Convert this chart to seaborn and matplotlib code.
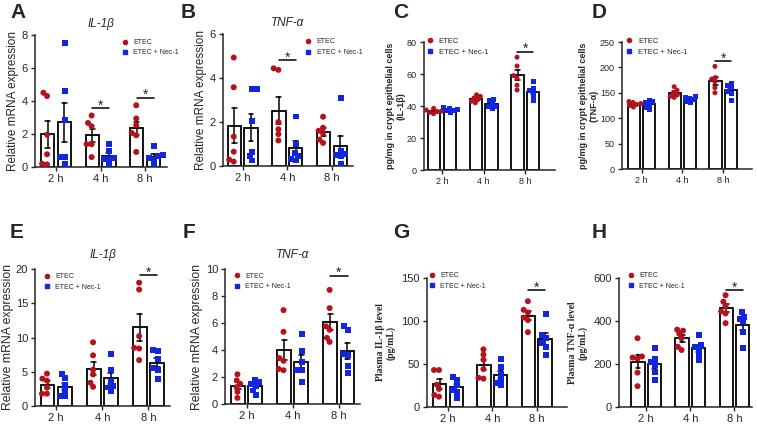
import pandas as pd
import matplotlib
matplotlib.use('Agg')
import matplotlib.pyplot as plt
import seaborn as sns
from matplotlib.lines import Line2D
from matplotlib.markers import MarkerStyle
from matplotlib.transforms import Affine2D

times = ['2 h', '4 h', '8 h']
groups = ['ETEC', 'ETEC + Nec-1']
colors = ['#B5121B', '#1226E0']

# values per group: [2 h, 4 h, 8 h], 6 animals each
a_etec = [[4.3, 4.5, 1.96, 0.77, 0.16, 0.2], [3.12, 2.67, 2.47, 1.38, 1.38, 0.6], [3.74, 2.94, 2.53, 2.06, 1.92, 0.91]]
a_nec = [[7.49, 4.6, 2.83, 0.6, 0.6, 0.16], [1.42, 0.95, 0.57, 0.5, 0.5, 0.15], [1.28, 0.71, 0.65, 0.55, 0.45, 0.15]]
b_etec = [[4.93, 3.58, 1.34, 0.65, 0.29, 0.2], [4.37, 4.44, 2.0, 1.67, 1.45, 1.16], [2.24, 1.74, 1.6, 1.5, 1.2, 1.05]]
b_nec = [[3.49, 3.52, 2.04, 0.65, 0.45, 0.25], [2.25, 0.99, 0.6, 0.45, 0.3, 0.25], [3.1, 0.7, 0.55, 0.5, 0.45, 0.08]]
c_etec = [[38.5, 37.5, 36.5, 36.0, 35.2, 36.8], [47, 46, 45, 44, 43, 42], [70.5, 65, 59, 57.5, 53, 50]]
c_nec = [[39, 38.5, 37.5, 37, 36, 38], [44, 43.5, 41.5, 40, 39.5, 38.5], [55.5, 51, 49.5, 48.5, 46, 43.5]]
d_etec = [[133, 131, 129, 127, 125, 122], [162, 155, 150, 146, 143, 141], [202, 180, 177, 172, 160, 150]]
d_nec = [[135, 132, 130, 127, 122, 118], [143, 141, 139, 136, 133, 130], [168, 165, 160, 152, 149, 135]]
e_etec = [[4.72, 3.99, 3.7, 2.68, 1.8, 1.8], [9.3, 7.4, 5.3, 4.6, 3.4, 2.8], [18.0, 17.0, 10.2, 8.5, 8.4, 6.7]]
e_nec = [[4.62, 4.1, 3.0, 2.3, 1.5, 1.4], [7.6, 5.2, 3.7, 2.9, 2.7, 2.2], [8.2, 8.1, 6.8, 5.6, 5.2, 4.0]]
f_etec = [[2.2, 1.75, 1.5, 1.25, 0.9, 0.45], [6.95, 5.35, 3.4, 3.2, 2.6, 2.5], [8.45, 7.1, 5.75, 5.5, 4.9, 4.6]]
f_nec = [[1.8, 1.6, 1.5, 1.35, 1.0, 0.7], [5.2, 3.9, 3.1, 2.55, 2.5, 1.6], [5.75, 5.5, 3.7, 3.6, 2.8, 2.3]]
g_etec = [[43, 43, 26, 21, 14, 12], [67, 61, 55, 44, 34, 33], [123, 113, 110, 104, 101, 87]]
g_nec = [[35, 31, 25, 20, 18, 10], [56, 46, 38, 31, 28, 25], [108, 84, 80, 74, 70, 60]]
h_etec = [[320, 235, 230, 225, 160, 97], [360, 355, 340, 320, 280, 265], [520, 490, 470, 445, 435, 390]]
h_nec = [[275, 225, 210, 195, 165, 125], [335, 290, 280, 270, 245, 220], [440, 420, 410, 395, 350, 275]]

# significance: (time index, line height)
a_sig = [(1, 3.58), (2, 4.2)]
b_sig = [(1, 4.8)]
c_sig = [(2, 74)]
d_sig = [(2, 212)]
e_sig = [(2, 19.1)]
f_sig = [(2, 9.5)]
g_sig = [(2, 135.6)]
h_sig = [(2, 543)]

sns.set_style('ticks')
plt.rcParams['font.family'] = ['Liberation Sans', 'DejaVu Sans']
plt.rcParams['axes.linewidth'] = 1.1

W, H = 757, 424
fig = plt.figure(figsize=(W / 100, H / 100), dpi=100)


def px_axes(l, r, t, b):
    return fig.add_axes([l / W, 1 - b / H, (r - l) / W, (b - t) / H])


def long_df(etec, nec):
    rows = []
    for g, vals in zip(groups, [etec, nec]):
        for t, v in zip(times, vals):
            for x in v:
                rows.append((t, g, x))
    return pd.DataFrame(rows, columns=['time', 'group', 'value'])


def panel(ax, etec, nec, ylim, yticks, xlim, ylabel, sig, leg_anchor,
          title=None, tick_fs=8, lab_fs=8.5, lab_font=None, msize=4.3,
          leg_fs=5, title_pad=6, labelpad=2):
    df = long_df(etec, nec)
    sns.barplot(data=df, x='time', y='value', hue='group', order=times, hue_order=groups,
                palette=['white', 'white'], saturation=1, edgecolor='black', linewidth=1.3,
                width=0.75, gap=0.2, errorbar='se', capsize=0.22,
                err_kws={'color': 'black', 'linewidth': 1.1}, legend=False, ax=ax)
    # swarm laid out with a slightly smaller footprint so dots may overlap a little
    grow = 1.25
    for g, m in zip(groups, ['o', 's']):
        mk = MarkerStyle(m, transform=Affine2D().scale(grow))
        sns.swarmplot(data=df[df['group'] == g], x='time', y='value', hue='group',
                      order=times, hue_order=groups, palette=dict(zip(groups, colors)),
                      dodge=True, marker=mk, size=msize / grow, linewidth=0, legend=False,
                      warn_thresh=1, ax=ax)
    for i, y in sig:
        ax.plot([i - 0.19, i + 0.19], [y, y], color='black', lw=1.1)
        ax.annotate('*', xy=(i, y), xytext=(0, -1), textcoords='offset points',
                    ha='center', va='baseline', fontsize=10)
    ax.set_xlim(*xlim)
    ax.set_ylim(*ylim)
    ax.set_yticks(yticks)
    ax.set_xlabel('')
    if lab_font is None:
        ax.set_ylabel(ylabel, fontsize=lab_fs, labelpad=labelpad)
    else:
        ax.set_ylabel(ylabel, fontsize=lab_fs, labelpad=labelpad, **lab_font)
    ax.tick_params(axis='both', labelsize=tick_fs, length=3, width=1, pad=2)
    sns.despine(ax=ax)
    if title:
        ax.set_title(title, fontsize=8.5, style='italic', pad=title_pad)
    handles = [Line2D([], [], marker='o', color=colors[0], ls='', markersize=3),
               Line2D([], [], marker='s', color=colors[1], ls='', markersize=3)]
    ax.legend(handles, groups, loc='upper left', bbox_to_anchor=leg_anchor, frameon=False,
              fontsize=leg_fs, handlelength=0.8, handletextpad=0.8, borderaxespad=0,
              borderpad=0, labelspacing=0.5)


ax_a = px_axes(35, 167, 35, 167)
panel(ax_a, a_etec, a_nec, (0, 8), [0, 2, 4, 6, 8], (-0.47, 2.49),
      'Relative mRNA expression', a_sig, (0.66, 0.97), title='IL-1β')

ax_b = px_axes(223, 353, 34, 166)
panel(ax_b, b_etec, b_nec, (0, 6), [0, 2, 4, 6], (-0.44, 2.47),
      'Relative mRNA expression', b_sig, (0.635, 0.966), title='TNF-α')

bold = {'fontweight': 'bold'}
ax_c = px_axes(424, 555, 42, 170)
panel(ax_c, c_etec, c_nec, (0, 80), [0, 20, 40, 60, 80], (-0.43, 2.71),
      'pg/mg in crypt epithelial cells\n(IL-1β)', c_sig, (0.02, 1.035),
      tick_fs=6.5, lab_fs=6.5, lab_font=bold, msize=3.6, leg_fs=5.5, labelpad=1)

ax_d = px_axes(622, 752, 42, 169)
panel(ax_d, d_etec, d_nec, (0, 250), [0, 50, 100, 150, 200, 250], (-0.48, 2.71),
      'pg/mg in crypt epithelial cells\n(TNF-α)', d_sig, (0.03, 1.035),
      tick_fs=6.5, lab_fs=6.5, lab_font=bold, msize=3.6, leg_fs=5.5, labelpad=1)

ax_e = px_axes(35, 170, 269, 406)
panel(ax_e, e_etec, e_nec, (0, 20), [0, 5, 10, 15, 20], (-0.46, 2.47),
      'Relative mRNA expression', e_sig, (0.067, 0.97), title='IL-1β',
      lab_fs=8.8, title_pad=8, labelpad=1)

ax_f = px_axes(225, 360, 269, 404)
panel(ax_f, f_etec, f_nec, (0, 10), [0, 2, 4, 6, 8, 10], (-0.47, 2.46),
      'Relative mRNA expression', f_sig, (0.067, 0.974), title='TNF-α',
      lab_fs=8.8, title_pad=8, labelpad=2)

serif = {'fontweight': 'bold', 'family': ['Liberation Serif', 'DejaVu Serif']}
ax_g = px_axes(427, 567, 278, 407)
panel(ax_g, g_etec, g_nec, (0, 150), [0, 50, 100, 150], (-0.47, 2.68),
      'Plasma IL-1β level\n(pg/mL)', g_sig, (0.014, 1.043),
      lab_fs=7, lab_font=serif, labelpad=4)

ax_h = px_axes(619, 752, 278, 407)
panel(ax_h, h_etec, h_nec, (0, 600), [0, 200, 400, 600], (-0.62, 2.4),
      'Plasma TNF-α level\n(pg/mL)', h_sig, (0.07, 1.043),
      lab_fs=7, lab_font=serif, labelpad=4)

for letter, x, y in [('A', 10, 13), ('B', 181, 13), ('C', 393, 12), ('D', 592, 12),
                     ('E', 10, 232), ('F', 183, 232), ('G', 393, 232), ('H', 592, 232)]:
    fig.text(x / W, 1 - y / H, letter, fontsize=15, fontweight='bold', ha='left', va='center')

fig.savefig('out.png', dpi=100)
